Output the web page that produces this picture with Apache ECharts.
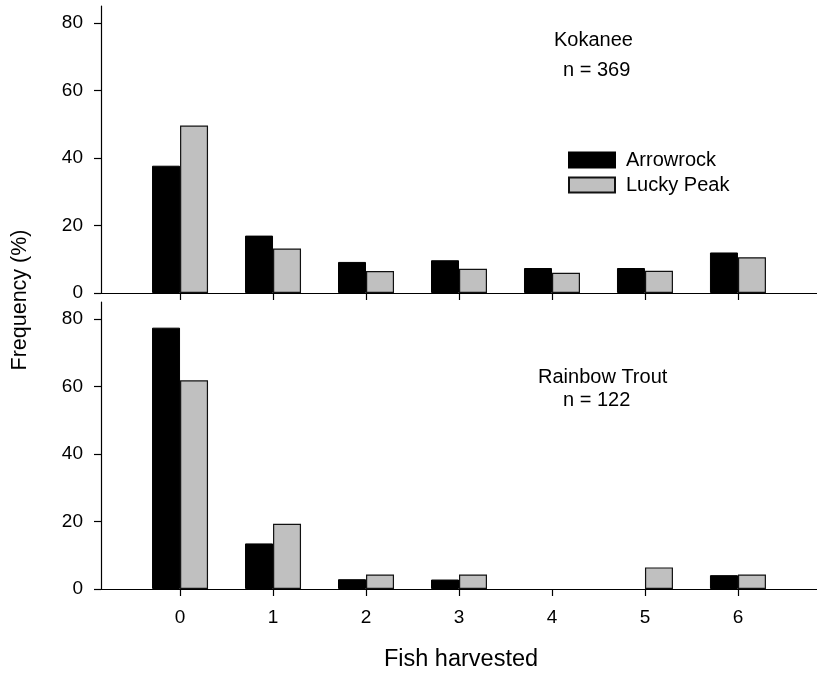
<!DOCTYPE html>
<html><head><meta charset="utf-8">
<script src="https://cdn.jsdelivr.net/npm/echarts@6/dist/echarts.min.js"></script>
<style>html,body{margin:0;padding:0;background:#fff}#c{width:817px;height:677px}</style>
</head><body><div id="c"></div>
<script>
const categories = [0, 1, 2, 3, 4, 5, 6];
const tickLabels = ['0', '1', '2', '3', '4', '5', '6'];
const yTicks = [0, 20, 40, 60, 80];
const kokaneeArrowrock = [37.7, 17.0, 9.2, 9.7, 7.4, 7.4, 12.0];
const kokaneeLuckyPeak = [49.6, 13.2, 6.5, 7.2, 6.0, 6.6, 10.6];
const troutArrowrock = [77.4, 13.5, 2.9, 2.8, 0, 0, 4.1];
const troutLuckyPeak = [61.8, 19.3, 4.3, 4.3, 0, 6.4, 4.3];

const FONT = '"Liberation Sans", Arial, sans-serif';
const chart = echarts.init(document.getElementById('c'), null, {renderer: 'canvas'});

function xAx(idx, showLabels) {
  return {
    gridIndex: idx, type: 'value', min: -0.85, max: 6.85,
    axisLine: {show: true, onZero: false, lineStyle: {color: '#000', width: 1.2}},
    axisTick: {show: true, customValues: categories, length: 7, lineStyle: {color: '#000', width: 1.2}},
    axisLabel: {show: showLabels, customValues: categories, margin: 19,
      formatter: v => tickLabels[categories.indexOf(v)],
      color: '#000', fontSize: 19, fontFamily: FONT},
    splitLine: {show: false}
  };
}
function yAx(idx) {
  return {
    gridIndex: idx, type: 'value', min: 0, max: 85,
    axisLine: {show: true, onZero: false, lineStyle: {color: '#000', width: 1.2}},
    axisTick: {show: true, customValues: yTicks, length: 7, lineStyle: {color: '#000', width: 1.2}},
    axisLabel: {customValues: yTicks, margin: 18, color: '#000', fontSize: 19, fontFamily: FONT},
    splitLine: {show: false}
  };
}
// zero-height bars are left empty (no mark), as in the reference
function pts(arr) { return categories.map((c, i) => [c, arr[i] === 0 ? '-' : arr[i]]); }
const blackStyle = {color: '#000', borderColor: '#000', borderWidth: 1};
const greyStyle = {color: '#c0c0c0', borderColor: '#111', borderWidth: 1.2};

chart.setOption({
  animation: false,
  backgroundColor: '#fff',
  grid: [
    {left: 101, top: 6, width: 720, height: 287},
    {left: 101, top: 302, width: 720, height: 287}
  ],
  xAxis: [xAx(0, false), xAx(1, true)],
  yAxis: [yAx(0), yAx(1)],
  legend: {
    data: ['Arrowrock', 'Lucky Peak'], orient: 'vertical', left: 568, top: 150, padding: 0,
    itemWidth: 46, itemHeight: 15, itemGap: 5, icon: 'rect',
    textStyle: {color: '#000', fontSize: 20, fontFamily: FONT, padding: [0, 0, 0, 6]}
  },
  series: [
    {name: 'Arrowrock', type: 'bar', xAxisIndex: 0, yAxisIndex: 0, barWidth: 28, barGap: '0%', data: pts(kokaneeArrowrock), itemStyle: blackStyle},
    {name: 'Lucky Peak', type: 'bar', xAxisIndex: 0, yAxisIndex: 0, barWidth: 28, barGap: '0%', data: pts(kokaneeLuckyPeak), itemStyle: greyStyle},
    {name: 'Arrowrock', type: 'bar', xAxisIndex: 1, yAxisIndex: 1, barWidth: 28, barGap: '0%', data: pts(troutArrowrock), itemStyle: blackStyle},
    {name: 'Lucky Peak', type: 'bar', xAxisIndex: 1, yAxisIndex: 1, barWidth: 28, barGap: '0%', data: pts(troutLuckyPeak), itemStyle: greyStyle}
  ],
  graphic: [
    {type: 'text', x: 554, y: 40, style: {text: 'Kokanee', fill: '#000', font: '20px ' + FONT, verticalAlign: 'middle'}},
    {type: 'text', x: 563, y: 70, style: {text: 'n = 369', fill: '#000', font: '20px ' + FONT, verticalAlign: 'middle'}},
    {type: 'text', x: 538, y: 377, style: {text: 'Rainbow Trout', fill: '#000', font: '20px ' + FONT, verticalAlign: 'middle'}},
    {type: 'text', x: 563, y: 400, style: {text: 'n = 122', fill: '#000', font: '20px ' + FONT, verticalAlign: 'middle'}},
    {type: 'text', x: 461, y: 660, style: {text: 'Fish harvested', fill: '#000', font: '23.5px ' + FONT, align: 'center', verticalAlign: 'middle'}},
    {type: 'text', x: 20, y: 300, rotation: Math.PI / 2, style: {text: 'Frequency (%)', fill: '#000', font: '21.5px ' + FONT, align: 'center', verticalAlign: 'middle'}}
  ]
});
</script></body></html>
